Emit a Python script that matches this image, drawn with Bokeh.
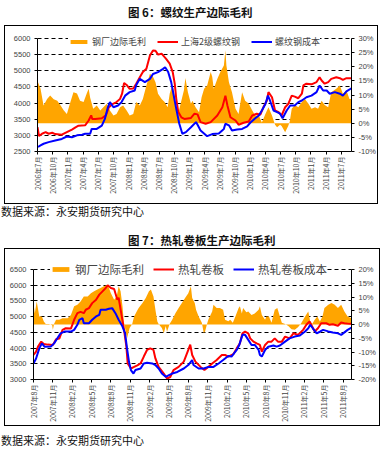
import math
from bokeh.plotting import figure
from bokeh.models import LinearAxis, Range1d, FixedTicker, Legend, LegendItem, Div
from bokeh.layouts import column
from bokeh.embed import file_html
from bokeh.resources import INLINE

# ---------------- Figure 6 data (months since 2006-07) ----------------
rebar_x_labels = ["2006年7月", "2006年10月", "2007年1月", "2007年4月", "2007年7月", "2007年10月",
                  "2008年1月", "2008年4月", "2008年7月", "2008年10月", "2009年1月", "2009年4月",
                  "2009年7月", "2009年10月", "2010年1月", "2010年4月", "2010年7月", "2010年10月",
                  "2011年1月", "2011年4月", "2011年7月"]

rebar_price_m = [0.0, 0.3, 0.9, 1.6, 2.2, 2.9, 3.5, 4.8, 5.8, 6.8,
                 7.5, 8.1, 9.4, 10.1, 10.6, 10.8, 11.4, 12.7, 13.5, 14.1,
                 14.8, 15.6, 16.3, 16.7, 17.1, 17.6, 18.2, 18.9, 19.5, 20.2,
                 20.8, 21.5, 22.2, 22.8, 23.3, 23.8, 24.5, 25.4, 26.1, 26.7,
                 27.1, 27.4, 27.8, 28.4, 29.0, 30.3, 31.0, 31.6, 32.2, 33.2,
                 34.2, 35.5, 36.5, 37.1, 37.5, 38.1, 39.1, 39.7, 40.7, 41.7,
                 42.4, 43.3, 44.0, 44.6, 45.3, 45.6, 46.3, 46.9, 47.6, 48.2,
                 48.9, 49.5, 50.2, 50.8, 51.5, 52.2, 52.5, 53.1, 54.1, 55.1,
                 55.7, 56.1, 56.7, 57.4, 58.0, 59.0, 59.7, 60.3, 61.0, 62.0]
rebar_price = [3250, 2980, 3050, 3100, 3050, 3080, 3040, 3020, 3100, 3180,
               3250, 3300, 3310, 3460, 3620, 3510, 3510, 3530, 3620, 3870,
               3970, 4030, 4130, 4290, 4620, 4560, 4440, 4450, 4600, 4800,
               4960, 5060, 5470, 5630, 5620, 5500, 5530, 5370, 5220, 4960,
               4600, 4130, 3720, 3560, 3510, 3540, 3670, 3650, 3410, 3360,
               3410, 3615, 3870, 4230, 3925, 3560, 3460, 3330, 3390, 3430,
               3615, 3670, 3640, 3870, 4080, 4340, 4180, 3770, 3720, 3615,
               3870, 3970, 4230, 4200, 4150, 4290, 4545, 4600, 4580, 4650,
               4800, 4700, 4600, 4650, 4750, 4800, 4770, 4720, 4770, 4770]

rebar_cost_m = [0.1, 0.6, 1.2, 2.2, 3.5, 4.8, 5.8, 6.8, 7.8, 8.8,
                9.4, 10.4, 10.7, 11.7, 12.7, 13.3, 13.9, 14.3, 15.0, 15.9,
                16.6, 17.3, 18.2, 19.2, 19.5, 20.2, 21.2, 22.2, 22.8, 23.8,
                24.8, 25.2, 25.8, 26.4, 26.9, 27.4, 28.0, 28.6, 29.3, 30.3,
                31.3, 31.6, 32.2, 33.5, 34.5, 35.8, 36.8, 37.1, 37.8, 38.4,
                39.4, 40.4, 41.4, 42.0, 43.0, 43.7, 44.3, 45.0, 45.5, 45.9,
                46.6, 47.3, 47.9, 48.4, 49.2, 49.9, 50.8, 51.5, 52.2, 53.1,
                54.1, 55.1, 55.7, 56.4, 57.1, 57.7, 58.7, 59.7, 60.3, 61.0,
                62.0]
rebar_cost = [2640, 2690, 2740, 2790, 2840, 2890, 2965, 2940, 3000, 3020,
              3050, 3050, 3200, 3200, 3300, 3510, 3870, 4030, 3870, 3925,
              4030, 4230, 4340, 4390, 4560, 4750, 4650, 4750, 4900, 4960,
              5060, 5110, 4960, 4650, 4230, 3820, 3360, 3050, 3100, 3250,
              3410, 3330, 3150, 2975, 3040, 3060, 3200, 3360, 3310, 3150,
              3180, 3200, 3280, 3390, 3530, 3615, 3770, 3970, 4230, 4080,
              3770, 3720, 3670, 3530, 3770, 3925, 3925, 4030, 4080, 4180,
              4230, 4340, 4545, 4390, 4390, 4290, 4340, 4290, 4230, 4360,
              4460]

rebar_margin_m = [0.1, 0.6, 1.2, 1.9, 2.5, 3.2, 3.9, 4.5, 5.2, 5.8,
                  6.5, 7.1, 7.8, 8.4, 9.1, 9.7, 10.1, 10.4, 11.0, 11.7,
                  12.4, 13.0, 13.7, 14.3, 15.0, 15.6, 16.3, 16.9, 17.6, 18.2,
                  18.9, 19.5, 20.2, 20.8, 21.5, 22.2, 22.8, 23.3, 23.8, 24.5,
                  25.1, 25.7, 26.1, 26.4, 26.7, 27.1, 27.4, 27.7, 28.4, 28.9,
                  29.2, 29.7, 30.3, 30.6, 31.2, 31.9, 32.4, 32.9, 33.5, 34.2,
                  34.5, 34.8, 35.5, 36.1, 36.8, 37.1, 37.3, 37.8, 38.4, 39.1,
                  39.7, 40.4, 41.0, 41.7, 42.4, 43.0, 43.7, 44.3, 45.0, 45.6,
                  46.3, 46.9, 47.3, 47.9, 48.2, 48.9, 49.5, 49.8, 50.2, 50.8,
                  51.5, 52.2, 52.8, 53.5, 54.1, 54.8, 55.4, 56.1, 56.7, 57.4,
                  58.0, 59.0, 59.7, 60.3, 61.0, 61.6, 62.0]
rebar_margin = [14.5, 12.2, 6.3, 8.6, 9.8, 8.5, 8.0, 6.5, 4.5, 3.3,
                7.5, 11.0, 10.5, 8.0, 7.5, 10.4, 12.2, 9.0, 5.1, 6.3,
                4.5, 5.7, 6.9, 4.5, 2.7, 3.3, 5.7, 6.3, 4.5, 2.7,
                3.3, 7.5, 6.3, 8.6, 13.4, 17.5, 16.5, 14.5, 10.4, 8.6,
                7.5, 5.7, 10.4, 12.2, 13.4, 9.2, 3.9, 2.7, 8.0, 11.6,
                16.0, 11.0, 6.9, 8.0, 5.7, 3.9, 9.2, 12.2, 13.4, 18.1,
                16.5, 12.2, 15.7, 18.1, 20.4, 25.8, 20.4, 14.5, 11.0, 5.1,
                3.3, 11.0, 8.0, 7.0, 4.5, 2.7, 2.7, 0.3, 3.3, 5.7,
                2.7, -0.5, -1.4, -0.5, -1.0, -3.2, -1.0, 0.5, 5.1, 6.5,
                5.7, 7.5, 8.6, 6.9, 5.1, 5.7, 5.1, 8.0, 6.5, 5.7,
                11.0, 12.2, 13.4, 10.4, 11.6, 8.6, 8.6]

# ---------------- Figure 7 data (months since 2007-08) ----------------
hrc_x_labels = ["2007年8月", "2007年11月", "2008年2月", "2008年5月", "2008年8月", "2008年11月",
                "2009年2月", "2009年5月", "2009年8月", "2009年11月", "2010年2月", "2010年5月",
                "2010年8月", "2010年11月", "2011年2月", "2011年5月", "2011年8月"]

hrc_price_m = [0.0, 0.4, 0.7, 1.2, 1.6, 2.2, 3.0, 3.5, 4.0, 4.5,
               5.0, 5.8, 6.3, 6.8, 7.3, 7.8, 8.1, 8.6, 9.1, 9.7,
               10.2, 10.7, 11.2, 11.5, 12.0, 12.5, 13.0, 13.2, 13.6, 14.0,
               14.4, 14.6, 15.1, 15.6, 16.1, 16.6, 17.1, 17.6, 18.1, 18.6,
               18.9, 19.4, 20.2, 20.7, 21.2, 21.7, 22.5, 23.3, 24.0, 24.3,
               24.6, 25.1, 25.9, 26.5, 27.1, 27.7, 28.4, 29.2, 29.7, 30.2,
               31.0, 31.5, 32.0, 32.4, 32.8, 33.3, 33.6, 34.1, 34.6, 35.1,
               35.4, 35.9, 36.4, 36.9, 37.4, 37.9, 38.5, 39.0, 39.7, 40.3,
               41.0, 41.8, 42.3, 42.8, 43.2, 43.6, 44.1, 44.6, 45.4, 45.9,
               46.4, 47.2, 47.7, 48.2, 49.0, 49.3]
hrc_price = [3780, 3885, 4045, 4205, 4130, 4110, 4100, 4280, 4300, 4580,
             4630, 4620, 4900, 5110, 5150, 5110, 5220, 5270, 5430, 5540,
             5700, 5805, 5910, 6000, 5910, 5880, 5540, 5600, 5110, 4630,
             4045, 3510, 3350, 3400, 3450, 3510, 3730, 3940, 3990, 3940,
             3670, 3400, 3190, 3030, 3080, 3300, 3400, 3570, 3940, 4110,
             3780, 3570, 3400, 3300, 3400, 3510, 3620, 3780, 3780, 3730,
             3810, 3990, 4150, 4470, 4525, 4470, 4310, 4205, 4150, 4100,
             3885, 4100, 4205, 4205, 4310, 4205, 4205, 4365, 4310, 4470,
             4420, 4580, 4740, 4845, 4685, 4525, 4630, 4790, 4790, 4740,
             4760, 4710, 4815, 4790, 4770, 4770]

hrc_cost_m = [0.0, 0.4, 0.9, 1.3, 1.7, 2.7, 3.2, 3.7, 4.2, 4.8,
              5.8, 6.3, 6.8, 7.1, 7.6, 7.8, 8.6, 9.1, 9.7, 10.2,
              10.4, 11.2, 11.7, 12.2, 12.7, 13.2, 13.8, 14.2, 14.5, 14.8,
              15.1, 15.5, 15.8, 16.6, 17.1, 17.6, 18.4, 18.9, 19.4, 19.9,
              20.5, 21.0, 21.5, 22.3, 23.3, 24.0, 24.6, 24.8, 25.6, 26.4,
              27.1, 27.9, 28.7, 29.4, 30.2, 30.7, 31.5, 31.9, 32.4, 32.8,
              33.3, 33.8, 34.3, 34.9, 35.1, 35.4, 35.9, 36.4, 37.2, 37.7,
              38.2, 39.0, 39.7, 40.5, 41.3, 42.1, 42.6, 42.9, 43.3, 43.9,
              44.4, 44.9, 45.7, 46.4, 47.2, 47.7, 48.2, 48.7, 49.3]
hrc_cost = [3510, 3670, 3990, 4150, 4045, 4050, 4150, 4310, 4470, 4525,
            4525, 4580, 4740, 4900, 4950, 4790, 4790, 4900, 5005, 5060,
            5220, 5220, 5250, 5270, 5110, 4900, 4685, 4470, 3990, 3570,
            3300, 3190, 3300, 3350, 3510, 3530, 3510, 3460, 3350, 3190,
            3085, 3140, 3190, 3240, 3350, 3460, 3620, 3460, 3350, 3350,
            3400, 3400, 3510, 3620, 3750, 3730, 3940, 4100, 4420, 4420,
            4260, 4100, 4100, 3940, 3780, 3730, 3940, 4045, 4080, 4045,
            4080, 4205, 4310, 4365, 4400, 4525, 4630, 4740, 4630, 4470,
            4520, 4580, 4530, 4495, 4470, 4420, 4500, 4580, 4650]

hrc_margin_m = [0.0, 0.2, 0.5, 0.9, 1.3, 1.6, 1.9, 2.4, 2.9, 3.0,
                3.2, 3.5, 4.0, 4.5, 5.3, 5.8, 6.3, 6.8, 7.3, 7.8,
                8.4, 8.9, 9.4, 9.9, 10.4, 10.9, 11.5, 12.0, 12.5, 12.9,
                13.2, 13.5, 13.8, 14.0, 14.3, 14.5, 14.9, 15.3, 15.6, 16.0,
                16.3, 16.9, 17.4, 17.9, 18.2, 18.6, 18.9, 19.2, 19.4, 19.9,
                20.2, 20.5, 20.7, 21.1, 21.5, 22.0, 22.5, 23.0, 23.5, 24.0,
                24.4, 24.6, 25.0, 25.2, 25.6, 26.1, 26.4, 26.6, 26.9, 27.1,
                27.7, 27.9, 28.4, 28.9, 29.4, 29.7, 30.2, 30.5, 30.9, 31.3,
                31.8, 32.0, 32.3, 32.5, 33.0, 33.3, 33.8, 34.3, 34.9, 35.1,
                35.4, 35.9, 36.1, 36.5, 36.9, 37.4, 37.8, 38.2, 38.5, 39.0,
                39.5, 40.0, 40.5, 41.0, 41.5, 42.1, 42.6, 42.9, 43.2, 43.6,
                44.0, 44.4, 44.8, 45.1, 45.7, 46.2, 46.7, 47.2, 47.7, 48.2,
                48.7, 49.3]
hrc_margin = [7.8, 4.1, 8.4, 2.9, 2.9, 1.1, 0.2, 0.2, -0.3, -1.9,
              0.3, 1.7, 1.7, 2.3, 2.3, 3.5, 6.6, 7.2, 8.4, 10.2,
              10.2, 11.4, 12.1, 12.7, 13.3, 13.9, 14.5, 11.4, 9.0, 10.2,
              13.9, 12.1, 6.6, 1.1, -2.6, -5.0, -1.3, 0.2, 2.9, 4.7,
              6.0, 7.8, 9.6, 12.1, 12.7, 10.2, 5.4, 1.1, 0.2, -1.3,
              -3.2, -0.5, -2.6, 0.2, 1.7, 4.1, 6.0, 7.8, 9.6, 11.4,
              13.9, 9.6, 7.8, 5.4, 2.9, 0.6, -3.2, -2.5, 0.2, 1.7,
              4.7, 7.2, 6.0, 6.0, 5.4, 1.7, 1.2, 1.7, 0.6, 2.9,
              6.0, 6.6, 4.0, 6.0, 4.5, 4.7, 3.5, 4.0, 5.4, 6.6,
              3.5, 1.7, 2.9, 2.9, 0.6, 5.4, 6.0, 2.9, 0.6, 0.2,
              -0.5, -1.7, -1.9, -1.0, 0.5, 2.9, 4.7, 1.1, 0.2, 1.7,
              2.9, 1.1, 2.9, 6.0, 7.2, 7.8, 7.2, 6.0, 7.2, 4.7,
              2.9, 2.3]

ORANGE = "#FFA500"
RED = "#FF0000"
BLUE = "#0000FF"
CJK = "Noto Sans CJK SC"


def make_chart(width, height, borders, xmax, yrange, yticks, prange, pticks,
               headroom_px, labels, area_x, area_y, red_x, red_y, blue_x, blue_y,
               legend_labels, legend_font, legend_loc, legend_spacing,
               legend_standoff, glyph_h, label_h, styles=None, margin=None):
    left, right, top, bottom = borders
    frame_h = height - top - bottom
    plot_h = frame_h - headroom_px      # pixels used by the value range
    ytop = yrange[0] + (yrange[1] - yrange[0]) * frame_h / plot_h
    ptop = prange[0] + (prange[1] - prange[0]) * frame_h / plot_h
    kw = {}
    if styles is not None:
        kw["styles"] = styles
    if margin is not None:
        kw["margin"] = margin
    p = figure(width=width, height=height, x_range=Range1d(0, xmax),
               y_range=Range1d(yrange[0], ytop), output_backend="svg",
               toolbar_location=None, tools="",
               min_border_left=left, min_border_right=right,
               min_border_top=top, min_border_bottom=bottom, **kw)
    p.outline_line_color = None
    p.extra_y_ranges = {"pct": Range1d(prange[0], ptop)}

    area = p.varea(x=area_x, y1=0, y2=area_y, y_range_name="pct",
                   fill_color=ORANGE, fill_alpha=1)
    red = p.line(red_x, red_y, line_color=RED, line_width=2)
    blue = p.line(blue_x, blue_y, line_color=BLUE, line_width=2)

    p.xgrid.visible = False
    p.ygrid.grid_line_color = "black"
    p.ygrid.grid_line_dash = "4 3"
    p.ygrid.grid_line_width = 1
    p.ygrid.ticker = FixedTicker(ticks=yticks)

    xa = p.xaxis[0]
    xa.ticker = FixedTicker(ticks=[3 * i for i in range(len(labels))])
    xa.major_label_overrides = {3 * i: lab for i, lab in enumerate(labels)}
    xa.major_label_orientation = math.pi / 2
    xa.major_label_text_font = CJK
    xa.major_label_text_font_size = "7px"
    xa.major_label_standoff = 2
    xa.major_tick_out = 3
    xa.major_tick_in = 0
    xa.minor_tick_out = 0
    xa.axis_line_color = "black"

    ya = p.yaxis[0]
    ya.ticker = FixedTicker(ticks=yticks)
    ya.bounds = (yrange[0], yrange[1])
    ya.major_label_text_font = "Liberation Sans"
    ya.major_label_text_font_size = "7.5px"
    ya.major_label_standoff = 4
    ya.major_tick_out = 3
    ya.major_tick_in = 0
    ya.minor_tick_out = 0

    ra = LinearAxis(y_range_name="pct", ticker=FixedTicker(ticks=pticks),
                    major_label_overrides={t: f"{t}%" for t in pticks},
                    bounds=(prange[0], prange[1]))
    ra.major_label_text_font = "Liberation Sans"
    ra.major_label_text_font_size = "7.5px"
    ra.major_label_standoff = 4
    ra.major_tick_out = 3
    ra.major_tick_in = 0
    ra.minor_tick_out = 0
    p.add_layout(ra, "right")

    legend = Legend(items=[LegendItem(label=legend_labels[0], renderers=[area]),
                           LegendItem(label=legend_labels[1], renderers=[red]),
                           LegendItem(label=legend_labels[2], renderers=[blue])],
                    orientation="horizontal", location=legend_loc,
                    label_text_font=CJK, label_text_font_size=legend_font,
                    glyph_width=21, glyph_height=glyph_h, label_height=label_h,
                    label_standoff=legend_standoff, spacing=legend_spacing,
                    padding=2, margin=0, border_line_color=None,
                    background_fill_color="white", background_fill_alpha=1)
    p.add_layout(legend)
    return p


# chart 1: border on the figure element itself
p1 = make_chart(374, 179, (32, 26, 7, 54), 62.0, (2500, 6000),
                list(range(2500, 6001, 500)), (-10, 30), list(range(-10, 31, 5)), 5,
                rebar_x_labels, rebar_margin_m, rebar_margin,
                rebar_price_m, rebar_price, rebar_cost_m, rebar_cost,
                ["钢厂边际毛利", "上海2级螺纹钢", "螺纹钢成本"],
                "9px", (31, 103), 11, 3, 5, 10,
                styles={"border": "1px solid black"}, margin=(0, 0, 0, 4))

# chart 2: border on a wrapping column
p2 = make_chart(374, 176, (28, 27, 9, 46), 49.3, (3000, 6500),
                list(range(3000, 6501, 500)), (-20, 20), list(range(-20, 21, 5)), 11,
                hrc_x_labels, hrc_margin_m, hrc_margin,
                hrc_price_m, hrc_price, hrc_cost_m, hrc_cost,
                ["钢厂边际毛利", "热轧卷板", "热轧卷板成本"],
                "11.5px", (17, 102), 9, 4, 6, 13)
box2 = column(p2, styles={"border": "1px solid black"}, margin=(0, 0, 0, 4))


def text_div(txt, height, pad_top, pad_left, bold, size):
    w = "bold" if bold else "normal"
    html = (f'<div style="padding-top:{pad_top}px;padding-left:{pad_left}px;'
            f'font-family:\'{CJK}\';font-weight:{w};font-size:{size}px;'
            f'line-height:14px;white-space:nowrap;color:#111;">{txt}</div>')
    return Div(text=html, width=384, height=height, margin=0)


title1 = text_div("图 6：螺纹生产边际毛利", 25, 5, 128, True, 11.5)
src1 = text_div("数据来源：永安期货研究中心", 22, 0, 1, False, 11)
title2 = text_div("图 7：热轧卷板生产边际毛利", 22, 7, 128, True, 11.5)
src2 = text_div("数据来源：永安期货研究中心", 22, 7, 1, False, 11)

layout = column(title1, p1, src1, title2, box2, src2, spacing=0, margin=0)

open("out.html", "w").write(file_html(layout, INLINE))
